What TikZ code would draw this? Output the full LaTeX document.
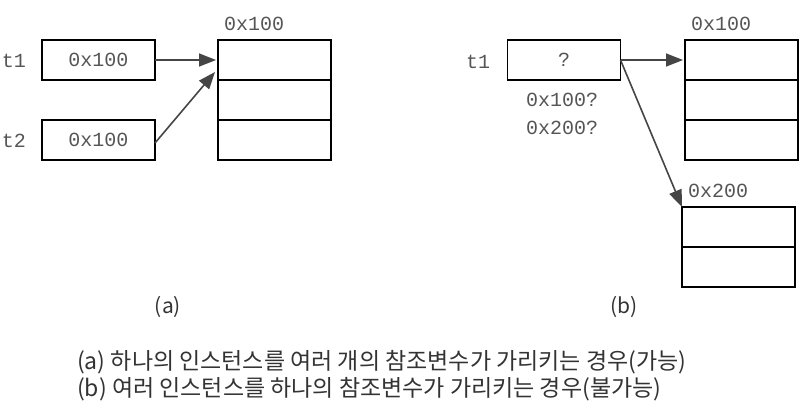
\documentclass[tikz,border=0pt]{standalone}
\usepackage{fontspec}
\setmonofont{Liberation Mono}
\newfontfamily\krfont{Noto Sans CJK KR}
\usetikzlibrary{positioning,arrows.meta}

\definecolor{memgray}{HTML}{555555}
\definecolor{arrowgray}{HTML}{454545}
\definecolor{captiongray}{HTML}{333333}

\tikzset{
  refbox/.style={draw, line width=1.4pt, minimum width=113pt, minimum height=40pt,
    inner sep=0pt, outer sep=0pt, font=\ttfamily\fontsize{20}{20}\selectfont, text=memgray},
  cell/.style={draw, line width=1.4pt, minimum width=113pt, minimum height=40pt,
    inner sep=0pt, outer sep=0pt},
  addr/.style={font=\ttfamily\fontsize{20}{20}\selectfont, text=memgray, inner sep=0pt},
  ptr/.style={draw=arrowgray, line width=1.6pt, -{Triangle[length=17pt,width=13pt]}},
  sublbl/.style={font=\krfont\fontsize{21}{21}\selectfont, text=captiongray, inner sep=0pt},
  caption/.style={font=\krfont\fontsize{23}{23}\selectfont, text=captiongray, inner sep=0pt}
}

\begin{document}
\begin{tikzpicture}[x=1pt,y=-1pt]
  \useasboundingbox (0,0) rectangle (806,413);

  % (a) two references, one instance
  \node[refbox] (at1) at (98.5,60) {0x100};
  \node[refbox] (at2) at (98.5,140) {0x100};
  \node[addr] (at1name) at (14,61) {t1};
  \node[addr] (at2name) at (14,141) {t2};

  \node[cell] (am1) at (274.5,60) {};
  \node[cell, below=0pt of am1] (am2) {};
  \node[cell, below=0pt of am2] (am3) {};
  \node[addr, anchor=south west, above right=9pt and 6pt of am1.north west] (am1addr) {0x100};

  \draw[ptr, shorten >=2pt] (at1) -- (am1);
  \draw[ptr] ([yshift=-3pt]at2.east) -- ([xshift=-3pt,yshift=8pt]am1.south west);

  % (b) one reference, two instances
  \node[refbox] (bt1) at (564,60) {?};
  \node[addr] (bt1name) at (478,62) {t1};
  \node[addr] (bguess1) at (562,100) {0x100?};
  \node[addr] (bguess2) at (562,128) {0x200?};

  \node[cell] (bm1) at (741.5,60) {};
  \node[cell, below=0pt of bm1] (bm2) {};
  \node[cell, below=0pt of bm2] (bm3) {};
  \node[addr, anchor=south west, above right=9pt and 6pt of bm1.north west] (bm1addr) {0x100};

  \node[cell] (bn1) at (738.5,227) {};
  \node[cell, below=0pt of bn1] (bn2) {};
  \node[addr, anchor=south west, above right=9pt and 6pt of bn1.north west] (bn1addr) {0x200};

  \draw[ptr, shorten >=2pt] (bt1) -- (bm1);
  \draw[ptr] (bt1.east) -- (bn1.north west);

  % sub labels and caption
  \node[sublbl] (alabel) at (168,307) {(a)};
  \node[sublbl] (blabel) at (624,307) {(b)};
  \node[caption, anchor=west] (capa) at (77,362) {(a) 하나의 인스턴스를 여러 개의 참조변수가 가리키는 경우(가능)};
  \node[caption, anchor=west] (capb) at (77,389) {(b) 여러 인스턴스를 하나의 참조변수가 가리키는 경우(불가능)};
\end{tikzpicture}
\end{document}
